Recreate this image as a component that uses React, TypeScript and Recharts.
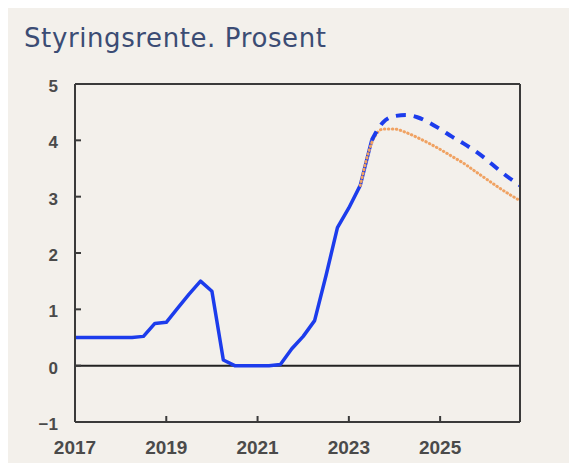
import { LineChart, Line, XAxis, YAxis, ReferenceLine } from "recharts";

// Quarterly policy rate, history
const histQuarters = [2017, 2017.25, 2017.5, 2017.75, 2018, 2018.25, 2018.5, 2018.75, 2019, 2019.25, 2019.5, 2019.75, 2020, 2020.25, 2020.5, 2020.75, 2021, 2021.25, 2021.5, 2021.75, 2022, 2022.25, 2022.5, 2022.75, 2023, 2023.25, 2023.5];
const histRate = [0.5, 0.5, 0.5, 0.5, 0.5, 0.5, 0.52, 0.75, 0.77, 1.02, 1.27, 1.5, 1.32, 0.1, 0, 0, 0, 0, 0.02, 0.3, 0.52, 0.8, 1.6, 2.45, 2.8, 3.2, 4.0];

// Current forecast (dashed blue)
const fcQuarters = [2023.5, 2023.75, 2024, 2024.25, 2024.5, 2024.75, 2025, 2025.25, 2025.5, 2025.75, 2026, 2026.25, 2026.5, 2026.75];
const fcRate = [4.0, 4.32, 4.43, 4.45, 4.41, 4.32, 4.2, 4.07, 3.95, 3.82, 3.67, 3.5, 3.34, 3.2];

// Previous forecast (dotted orange)
const prevQuarters = [2023.25, 2023.5, 2023.75, 2024, 2024.25, 2024.5, 2024.75, 2025, 2025.25, 2025.5, 2025.75, 2026, 2026.25, 2026.5, 2026.75];
const prevRate = [3.2, 3.95, 4.2, 4.2, 4.14, 4.05, 3.95, 3.84, 3.72, 3.6, 3.46, 3.32, 3.18, 3.05, 2.93];

const yearTicks = [2017, 2019, 2021, 2023, 2025];
const rateTicks = [-1, 0, 1, 2, 3, 4, 5];

const zip = (ts: number[], vs: number[]) => ts.map((t, i) => ({ t, v: vs[i] }));

const AXIS = "#3a3a3a";
const fmt = (v: number) => String(v).replace("-", "\u2212");

export default function App() {
  return (
    <div style={{ position: "relative", width: 569, height: 455, background: "#f3f0eb" }}>
      <div style={{ position: "absolute", left: 16, top: 17, fontFamily: "DejaVu Sans", fontSize: 26, lineHeight: "26px", letterSpacing: 0.6, color: "#3b4c74", whiteSpace: "nowrap" }}>
        Styringsrente. Prosent
      </div>
      <LineChart width={569} height={455} margin={{ top: 76, right: 0, bottom: 0, left: 0 }}>
        <XAxis dataKey="t" type="number" domain={[2017, 2026.75]} ticks={yearTicks} allowDuplicatedCategory={false}
          height={41} stroke={AXIS} strokeWidth={2} tickSize={-6} tickMargin={25}
          tick={{ fill: "#4a4a4a", fontSize: 19, fontWeight: "bold", fontFamily: "Liberation Sans" }} />
        <YAxis yAxisId="left" domain={[-1, 5]} ticks={rateTicks} width={67} stroke={AXIS} strokeWidth={2}
          tickSize={-6} tickMargin={23} tickFormatter={fmt}
          tick={{ fill: "#4a4a4a", fontSize: 17, fontWeight: "bold", fontFamily: "Liberation Sans", dy: 2 }} />
        <YAxis yAxisId="right" orientation="right" domain={[-1, 5]} ticks={rateTicks} width={57} stroke={AXIS} strokeWidth={2}
          tickSize={-6} tickMargin={19} tickFormatter={fmt}
          tick={{ fill: "#4a4a4a", fontSize: 17, fontWeight: "bold", fontFamily: "Liberation Sans", dy: 2 }} />
        <ReferenceLine yAxisId="left" y={5} stroke={AXIS} strokeWidth={2} />
        <ReferenceLine yAxisId="left" y={0} stroke="#222" strokeWidth={2} />
        <Line yAxisId="left" data={zip(histQuarters, histRate)} dataKey="v" type="linear" stroke="#1c3cec" strokeWidth={3.5}
          dot={false} isAnimationActive={false} strokeLinejoin="round" />
        <Line yAxisId="left" data={zip(prevQuarters, prevRate)} dataKey="v" type="monotone" stroke="#f0a262" strokeWidth={3}
          strokeDasharray="0.5 3.5" strokeLinecap="round" dot={false} isAnimationActive={false} />
        <Line yAxisId="left" data={zip(fcQuarters, fcRate)} dataKey="v" type="monotone" stroke="#1c3cec" strokeWidth={4}
          strokeDasharray="10 8" dot={false} isAnimationActive={false} />
      </LineChart>
    </div>
  );
}
